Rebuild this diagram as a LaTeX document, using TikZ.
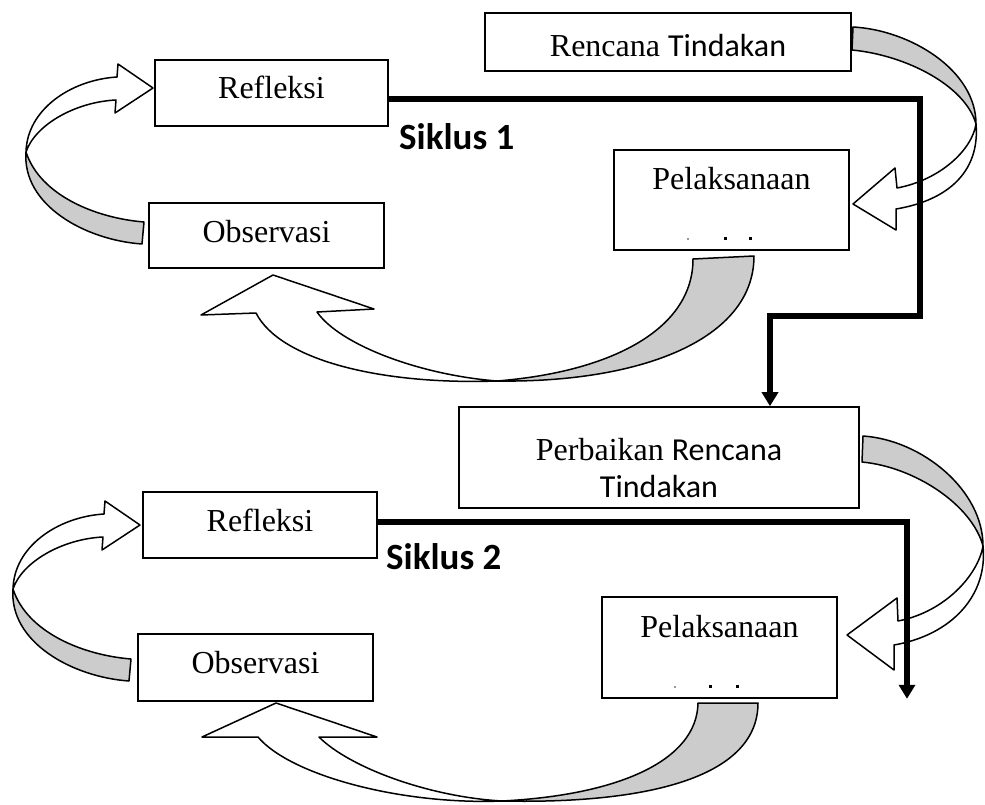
\documentclass[tikz,border=0pt]{standalone}
\usepackage{fontspec}
\setmainfont{Liberation Serif}
\newfontfamily\calibrifont{Carlito}
\usetikzlibrary{arrows.meta}
\begin{document}
\begin{tikzpicture}[x=1pt,y=-1pt,
  box/.style={draw=black, line width=1.6pt, inner sep=0pt, fill=white},
  lbl/.style={anchor=base, inner sep=0pt, font=\fontsize{32}{38}\selectfont},
  sik/.style={anchor=base west, inner sep=0pt, font=\calibrifont\bfseries\fontsize{37}{43}\selectfont},
  flow/.style={line width=5.5pt, -{Triangle[width=16pt,length=14pt]}},
  front/.style={fill=white, draw=black, line width=1.5pt, line join=round},
  back/.style={fill=black!20, draw=black, line width=1.5pt, line join=round}]
\useasboundingbox (0,0) rectangle (985,805);

% ---------- boxes ----------
\node[box, minimum width=366pt, minimum height=58pt] (renc) at (668,42) {};
\node[box, minimum width=233pt, minimum height=66pt] (refl1) at (271.5,93) {};
\node[box, minimum width=235pt, minimum height=65pt] (obs1) at (266.5,235.5) {};
\node[box, minimum width=235pt, minimum height=100pt] (pel1) at (731.5,200) {};
\node[box, minimum width=400pt, minimum height=101pt] (perb) at (659,457.5) {};
\node[box, minimum width=234pt, minimum height=66pt] (refl2) at (260,525) {};
\node[box, minimum width=235pt, minimum height=67pt] (obs2) at (255.5,667.5) {};
\node[box, minimum width=235pt, minimum height=101pt] (pel2) at (719.5,647.5) {};

% ---------- texts ----------
\node[lbl] (trenc) at (668,57) {Rencana {\calibrifont Tindakan}};
\node[lbl] (trefl1) at (271.5,99) {Refleksi};
\node[lbl] (tobs1) at (266.5,242) {Observasi};
\node[lbl] (tpel1) at (731.5,190) {Pelaksanaan};
\node[lbl] (tperb1) at (659,460) {Perbaikan {\calibrifont Rencana}};
\node[lbl] (tperb2) at (659,497) {\calibrifont Tindakan};
\node[lbl] (trefl2) at (260,531) {Refleksi};
\node[lbl] (tobs2) at (255.5,673) {Observasi};
\node[lbl] (tpel2) at (719.5,637) {Pelaksanaan};
\node[sik] (sik1) at (399,150) {Siklus 1};
\node[sik] (sik2) at (386,569) {Siklus 2};

% remnants of clipped text
\fill[black!40] (687,238) rectangle +(2,2);
\fill (724,237) rectangle +(3,2.5);
\fill (749,237) rectangle +(3,2.5);
\fill[black!40] (674,686) rectangle +(2,2);
\fill (709,685) rectangle +(3,2.5);
\fill (736,685) rectangle +(3,2.5);

% ---------- cycle 1 curved arrows ----------
% Observasi -> Refleksi
\draw[back] (26,152) .. controls (40,195) and (95,218) .. (144,222) -- (142,244)
  .. controls (85,240) and (22,205) .. (26,152) -- cycle;
\draw[front] (117,77) -- (118,64) -- (153,88) -- (115,113) -- (116,100)
  .. controls (75,102) and (35,125) .. (26,152)
  .. controls (27,110) and (70,80) .. (117,77) -- cycle;
% Rencana -> Pelaksanaan
\draw[back] (853,27) .. controls (910,30) and (976,70) .. (976,124)
  .. controls (965,85) and (905,55) .. (852,50) -- cycle;
\draw[front] (897,188) -- (895,168) -- (853,204) -- (896,230) -- (896,209)
  .. controls (950,200) and (980,170) .. (976,124)
  .. controls (972,150) and (940,180) .. (897,188) -- cycle;
% Pelaksanaan -> Observasi
\draw[back] (693,259) .. controls (693,330) and (610,372) .. (497,381)
  .. controls (640,383) and (754,340) .. (754,256) -- cycle;
\draw[front] (256,313) -- (201,315) -- (273,275) -- (374,309) -- (317,312)
  .. controls (340,345) and (420,375) .. (497,381)
  .. controls (380,385) and (280,360) .. (256,313) -- cycle;

% ---------- cycle 2 curved arrows ----------
% Observasi -> Refleksi
\begin{scope}[shift={(-13,437)}]
\draw[back] (26,152) .. controls (40,195) and (95,218) .. (144,222) -- (142,244)
  .. controls (85,240) and (22,205) .. (26,152) -- cycle;
\draw[front] (117,77) -- (118,64) -- (153,88) -- (115,113) -- (116,100)
  .. controls (75,102) and (35,125) .. (26,152)
  .. controls (27,110) and (70,80) .. (117,77) -- cycle;
\end{scope}
% Perbaikan -> Pelaksanaan
\draw[back] (863,436) .. controls (922,440) and (983,490) .. (983,546)
  .. controls (972,505) and (915,467) .. (862,462) -- cycle;
\draw[front] (898,621) -- (897,598) -- (847,635) -- (894,670) -- (894,645)
  .. controls (952,635) and (988,595) .. (983,546)
  .. controls (978,575) and (945,612) .. (898,621) -- cycle;
% Pelaksanaan -> Observasi
\draw[back] (698,703) .. controls (697,760) and (620,795) .. (502,801)
  .. controls (640,804) and (758,780) .. (758,703) -- cycle;
\draw[front] (258,737) -- (202,737) -- (276,703) -- (377,737) -- (319,737)
  .. controls (350,768) and (430,797) .. (502,801)
  .. controls (400,805) and (290,775) .. (258,737) -- cycle;

% ---------- thick connectors ----------
\coordinate (c1a) at (920,99);
\coordinate (c1b) at (920,316);
\coordinate (c1c) at (770,316);
\draw[flow] (refl1.east |- c1a) -- (c1a) -- (c1b) -- (c1c) -- (c1c |- perb.north);
\coordinate (c2a) at (907,522);
\draw[flow] (refl2.east |- c2a) -- (c2a) -- (c2a |- pel2.south);
\end{tikzpicture}
\end{document}
